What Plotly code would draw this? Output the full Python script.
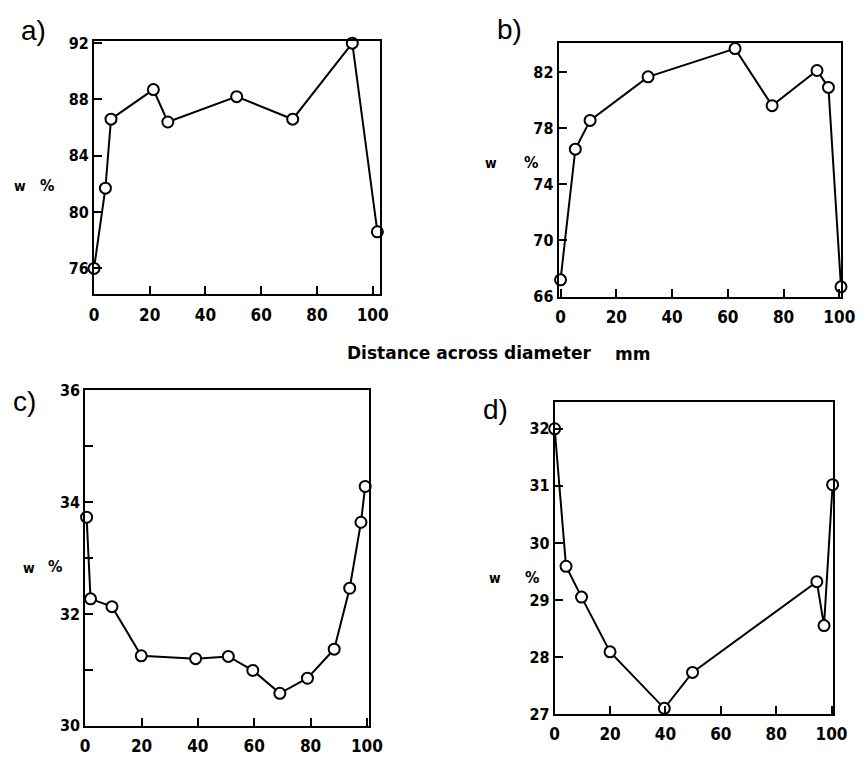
import plotly.graph_objects as go

# ---- data ----
a_x = [0, 4.1, 6.1, 21.3, 26.5, 51.2, 71.3, 92.7, 101.7]
a_y = [76.0, 81.7, 86.6, 88.7, 86.4, 88.2, 86.6, 92.0, 78.6]

b_x = [0, 5.3, 10.6, 31.4, 62.6, 75.9, 92.0, 96.1, 100.6]
b_y = [67.2, 76.5, 78.55, 81.65, 83.66, 79.6, 82.1, 80.9, 66.7]

c_x = [0.5, 1.9, 9.5, 19.9, 39.2, 50.8, 59.5, 69.1, 78.9, 88.4, 93.9, 97.9, 99.4]
c_y = [33.73, 32.27, 32.13, 31.25, 31.2, 31.24, 30.99, 30.58, 30.85, 31.37, 32.46, 33.64, 34.28]

d_x = [0, 4.1, 9.7, 20.0, 39.6, 49.8, 94.7, 97.3, 100.4]
d_y = [32.0, 29.59, 29.05, 28.09, 27.1, 27.73, 29.32, 28.55, 31.02]

x_ticks = [0, 20, 40, 60, 80, 100]
a_yticks = [76, 80, 84, 88, 92]
b_yticks = [66, 70, 74, 78, 82]
c_yticks = [30, 31, 32, 33, 34, 35, 36]
c_ylabels = ["30", "", "32", "", "34", "", "36"]
d_yticks = [27, 28, 29, 30, 31, 32]

panel_labels = ["a)", "b)", "c)", "d)"]
y_title = "w"
unit_label = "%"
x_title = "Distance across diameter"
x_unit = "mm"

W, H = 867, 765
XTICKFONT = dict(family="DejaVu Sans Condensed", size=17, color="black", weight="bold")
YTICKFONT = dict(family="DejaVu Sans Condensed", size=16, color="black", weight="bold")


def px(x):
    return x / W


def py(y):
    return 1 - y / H


panels = [
    (a_x, a_y, (91, 383), (33, 292.7), [0, 102.5], [74.15, 92.14], a_yticks, None),
    (b_x, b_y, (566, 855), (35, 295), [-0.7, 100.7], [66, 84.05], b_yticks, None),
    (c_x, c_y, (82, 372), (391, 735), [0, 100.7], [30, 36], c_yticks, c_ylabels),
    (d_x, d_y, (562, 847), (403, 723), [0, 100.7], [27, 32.47], d_yticks, None),
]

fig = go.Figure()
layout = dict(
    width=W, height=H, autosize=False,
    margin=dict(l=0, r=0, t=0, b=0),
    paper_bgcolor="white", plot_bgcolor="white",
    showlegend=False,
)

for i, (xs, ys, xd, yd, xr, yr, yt, yl) in enumerate(panels):
    n = "" if i == 0 else str(i + 1)
    fig.add_trace(go.Scatter(
        x=xs, y=ys, mode="lines+markers",
        xaxis="x" + n, yaxis="y" + n,
        line=dict(color="black", width=2),
        marker=dict(symbol="circle", size=11, color="white",
                    line=dict(color="black", width=2)),
        cliponaxis=False,
    ))
    common = dict(showgrid=False, zeroline=False, showline=True, mirror=True,
                  linecolor="black", linewidth=2, ticks="inside", ticklen=8,
                  tickwidth=2, tickcolor="black")
    layout["xaxis" + n] = dict(domain=[px(xd[0]), px(xd[1])], range=xr,
                               anchor="y" + n, tickvals=x_ticks,
                               ticktext=[str(v) for v in x_ticks],
                               ticklabelstandoff=4, tickfont=XTICKFONT, **common)
    layout["yaxis" + n] = dict(domain=[py(yd[1]), py(yd[0])], range=yr,
                               anchor="x" + n, tickvals=yt,
                               ticktext=yl if yl else [str(v) for v in yt],
                               ticklabelstandoff=0, tickfont=YTICKFONT, **common)

fig.update_layout(**layout)

ann = []
label_pos = [(29, 22), (516, 21), (20, 402), (502, 411)]
for t, (x, y) in zip(panel_labels, label_pos):
    ann.append(dict(text=t, x=px(x), y=py(y), xref="paper", yref="paper",
                    showarrow=False, xanchor="center", yanchor="middle",
                    font=dict(family="Liberation Sans", size=28, color="black")))

w_pos = [((15, 182), (43, 181)), ((497, 158), (538, 157)),
         ((25, 573), (51, 572)), ((501, 584), (539, 583))]
for (wp, up) in w_pos:
    ann.append(dict(text=y_title, x=px(wp[0]), y=py(wp[1]), xref="paper", yref="paper",
                    showarrow=False, xanchor="center", yanchor="middle",
                    font=dict(family="DejaVu Sans Condensed", size=14, color="black", weight="bold")))
    ann.append(dict(text=unit_label, x=px(up[0]), y=py(up[1]), xref="paper", yref="paper",
                    showarrow=False, xanchor="center", yanchor="middle",
                    font=dict(family="DejaVu Sans Condensed", size=16, color="black", weight="bold")))

ann.append(dict(text=x_title, x=px(348), y=py(353), xref="paper", yref="paper",
                showarrow=False, xanchor="left", yanchor="middle",
                font=dict(family="DejaVu Sans", size=17, color="black", weight="bold")))
ann.append(dict(text=x_unit, x=px(622), y=py(354), xref="paper", yref="paper",
                showarrow=False, xanchor="left", yanchor="middle",
                font=dict(family="DejaVu Sans", size=17, color="black", weight="bold")))

fig.update_layout(annotations=ann)
fig.write_html("out.html")
